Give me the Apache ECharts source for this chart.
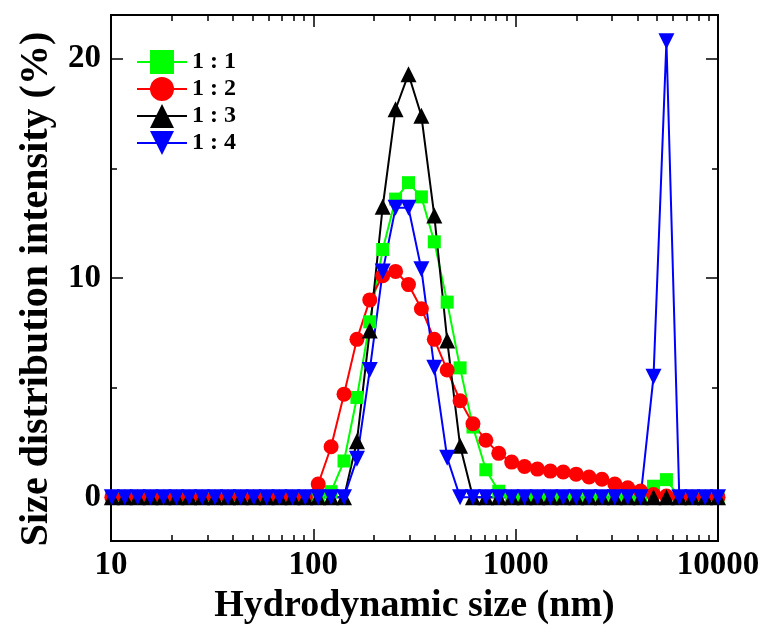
<!DOCTYPE html>
<html>
<head>
<meta charset="utf-8">
<script src="https://cdn.jsdelivr.net/npm/echarts@6/dist/echarts.min.js"></script>
<style>
  html, body { margin: 0; padding: 0; background: #fff; }
  #chart { width: 767px; height: 634px; }
</style>
</head>
<body>
<div id="chart"></div>
<script>
// hydrodynamic size bins (nm)
const sizes = [10.10, 11.70, 13.54, 15.69, 18.17, 21.04, 24.36, 28.21, 32.67, 37.84, 43.82, 50.75,
  58.77, 68.06, 78.82, 91.28, 105.7, 122.4, 141.8, 164.2, 190.1, 220.2, 255.0, 295.3, 342.0, 396.1,
  458.7, 531.2, 615.1, 712.4, 825.0, 955.4, 1106, 1281, 1484, 1718, 1990, 2305, 2669, 3091, 3580,
  4145, 4801, 5560, 6439, 7456, 8635, 10000];

// intensity (%) per ratio
const ratio11 = [0, 0, 0, 0, 0, 0, 0, 0, 0, 0, 0, 0, 0, 0, 0, 0,
  0, 0.25, 1.65, 4.55, 8.0, 11.3, 13.6, 14.35, 13.7, 11.65, 8.9, 5.9, 3.2, 1.25, 0.27,
  0, 0, 0, 0, 0, 0, 0, 0, 0, 0, 0, 0.5, 0.8, 0, 0, 0, 0];
const ratio12 = [0, 0, 0, 0, 0, 0, 0, 0, 0, 0, 0, 0, 0, 0, 0, 0,
  0.6, 2.3, 4.7, 7.2, 9.0, 10.1, 10.3, 9.7, 8.6, 7.2, 5.8, 4.4, 3.35, 2.6, 2.0, 1.6,
  1.4, 1.28, 1.19, 1.15, 1.05, 0.92, 0.82, 0.6, 0.43, 0.28, 0.12, 0.05, 0, 0, 0, 0];
const ratio13 = [0, 0, 0, 0, 0, 0, 0, 0, 0, 0, 0, 0, 0, 0, 0, 0,
  0, 0, 0, 2.55, 7.6, 13.25, 17.7, 19.3, 17.4, 12.85, 7.15, 2.35,
  0, 0, 0, 0, 0, 0, 0, 0, 0, 0, 0, 0, 0, 0, 0, 0, 0, 0, 0, 0];
const ratio14 = [0, 0, 0, 0, 0, 0, 0, 0, 0, 0, 0, 0, 0, 0, 0, 0,
  0, 0, 0, 1.75, 5.8, 10.3, 13.2, 13.2, 10.4, 5.9, 1.8,
  0, 0, 0, 0, 0, 0, 0, 0, 0, 0, 0, 0, 0, 0, 0, 5.5, 20.8, 0, 0, 0, 0];

const seriesNames = ['1 : 1', '1 : 2', '1 : 3', '1 : 4'];

// tick labels
const xMajorTicks = [10, 100, 1000, 10000];
const xMinorTicks = [20, 30, 40, 50, 60, 70, 80, 90, 200, 300, 400, 500, 600, 700, 800, 900,
  2000, 3000, 4000, 5000, 6000, 7000, 8000, 9000];
const yMajorTicks = [0, 10, 20];
const yMinorTicks = [5, 15];

const FONT = 'Liberation Serif';

function pairs(vals) {
  return sizes.map((s, i) => [s, vals[i]]);
}

function xAxisDef(pos, ticks, len, withLabels, withName) {
  return {
    type: 'log', logBase: 10, min: 10, max: 10000, position: pos,
    axisLine: { show: true, onZero: false, lineStyle: { color: '#000', width: 2 } },
    axisTick: { show: true, inside: true, length: len, customValues: ticks,
      lineStyle: { color: '#000', width: 1.5 } },
    axisLabel: { show: withLabels, customValues: ticks, margin: 8, color: '#000',
      fontFamily: FONT, fontWeight: 'bold', fontSize: 33,
      formatter: v => String(Math.round(v)) },
    splitLine: { show: false },
    minorTick: { show: false },
    name: withName ? 'Hydrodynamic size (nm)' : '',
    nameLocation: 'middle', nameGap: 44,
    nameTextStyle: { color: '#000', fontFamily: FONT, fontWeight: 'bold', fontSize: 38 }
  };
}

function yAxisDef(pos, ticks, len, withLabels, withName) {
  return {
    type: 'value', min: -2, max: 22, position: pos,
    axisLine: { show: true, onZero: false, lineStyle: { color: '#000', width: 2 } },
    axisTick: { show: true, inside: true, length: len, customValues: ticks,
      lineStyle: { color: '#000', width: 1.5 } },
    axisLabel: { show: withLabels, customValues: ticks, margin: 10, color: '#000',
      fontFamily: FONT, fontWeight: 'bold', fontSize: 33 },
    splitLine: { show: false },
    name: withName ? 'Size distribution intensity (%)' : '',
    nameLocation: 'middle', nameGap: 54,
    nameTextStyle: { color: '#000', fontFamily: FONT, fontWeight: 'bold', fontSize: 40,
      padding: [0, 22, 0, 0] }
  };
}

const chart = echarts.init(document.getElementById('chart'), null, { renderer: 'canvas' });

const styles = [
  { color: '#00ff00', symbol: 'rect', size: 13, rotate: 0 },
  { color: '#ff0000', symbol: 'circle', size: 15, rotate: 0 },
  { color: '#000000', symbol: 'triangle', size: 16, rotate: 0 },
  { color: '#0000ff', symbol: 'triangle', size: 16, rotate: 180 }
];
const values = [ratio11, ratio12, ratio13, ratio14];

chart.setOption({
  animation: false,
  grid: { left: 111, right: 49, top: 15, bottom: 93 },
  legend: {
    left: 136, top: 50, orient: 'vertical', padding: 0,
    itemWidth: 50, itemHeight: 30, itemGap: 3,
    textStyle: { color: '#000', fontFamily: FONT, fontWeight: 'bold', fontSize: 24 },
    data: seriesNames
  },
  xAxis: [
    xAxisDef('bottom', xMajorTicks, 12, true, true),
    xAxisDef('bottom', xMinorTicks, 6, false, false),
    xAxisDef('top', xMajorTicks, 12, false, false),
    xAxisDef('top', xMinorTicks, 6, false, false)
  ],
  yAxis: [
    yAxisDef('left', yMajorTicks, 12, true, true),
    yAxisDef('left', yMinorTicks, 6, false, false),
    yAxisDef('right', yMajorTicks, 12, false, false),
    yAxisDef('right', yMinorTicks, 6, false, false)
  ],
  series: values.map((v, i) => ({
    name: seriesNames[i],
    type: 'line',
    data: pairs(v),
    symbol: styles[i].symbol,
    symbolSize: styles[i].size,
    symbolRotate: styles[i].rotate,
    showAllSymbol: true,
    itemStyle: { color: styles[i].color },
    lineStyle: { color: styles[i].color, width: 2 },
    clip: false
  }))
});
</script>
</body>
</html>
